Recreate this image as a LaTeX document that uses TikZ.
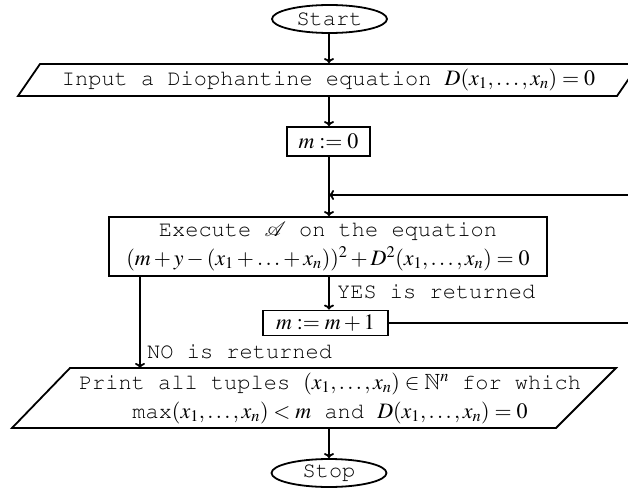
\documentclass[tikz,border=0pt]{standalone}
\usepackage[T1]{fontenc}
\usepackage{amssymb}
\usepackage{mathrsfs}
\usepackage{mathptmx}
\usepackage{courier}
\usetikzlibrary{shapes.geometric,arrows.meta}
\tikzset{
  base/.style={font=\fontsize{22}{29}\selectfont\ttfamily, inner sep=0pt, line width=1.8pt},
  term/.style={base, draw, ellipse, minimum width=115pt, minimum height=28pt},
  proc/.style={base, draw, rectangle, align=center},
  io/.style={base, draw, trapezium, trapezium stretches body=true, align=center},
  txt/.style={base, align=center},
  conn/.style={line width=1.8pt, -{To[length=5pt,width=10pt]}},
  plain/.style={line width=1.8pt},
  lbl/.style={font=\fontsize{22}{26}\selectfont\ttfamily, inner sep=0pt}
}
\begin{document}
\begin{tikzpicture}[x=1pt,y=-1pt]
\useasboundingbox (0,0) rectangle (628,487);
\node[term] (start) at (329.5,19) {Start};
\node[io, trapezium left angle=45, trapezium right angle=135, minimum width=621pt, minimum height=32pt] (input) at (328.5,80) {Input a Diophantine equation $D(x_1,\ldots,x_n)=0$};
\node[proc, minimum width=83pt, minimum height=29pt] (m0) at (328.5,141.5) {$m:=0$};
\coordinate (join) at (329,195);
\coordinate (loopin) at (628,195);
\node[proc, minimum width=438pt, minimum height=59pt] (exec) at (328,246.5) {Execute $\mathscr{A}$ on the equation\\$(m+y-(x_1+\ldots+x_n))^2+D^2(x_1,\ldots,x_n)=0$};
\node[proc, minimum width=125pt, minimum height=25pt] (inc) at (325.5,323) {$m:=m+1$};
\coordinate (loopout) at (628,323);
% output parallelogram
\coordinate (pbl) at (12,428);
\coordinate (ptl) at (70,368);
\coordinate (ptr) at (616,368);
\coordinate (pbr) at (556,428);
\draw[plain, line join=miter] (pbl) -- (ptl) -- (ptr) -- (pbr) -- cycle;
\node[txt] (print) at (330,398) {Print all tuples $(x_1,\ldots,x_n)\in\mathbb{N}^n$ for which\\\texttt{max}$(x_1,\ldots,x_n)<m$ and $D(x_1,\ldots,x_n)=0$};
\node[term] (stop) at (329,473) {Stop};
\coordinate (yesx) at (329,0);
\coordinate (nox) at (140,0);
\draw[conn] (start.south -| yesx) -- (input.north -| yesx);
\draw[conn] (input.south -| yesx) -- (m0.north -| yesx);
\draw[conn] (m0.south -| yesx) -- (exec.north -| yesx);
\draw[conn] (loopin) -- (join);
\draw[conn] (exec.south -| yesx) -- (inc.north -| yesx);
\node[lbl, anchor=base west] (yes) at (337,298) {YES is returned};
\draw[plain] (inc.east) -- (loopout);
\draw[conn] (exec.south -| nox) -- (ptl -| nox);
\node[lbl, anchor=base west] (no) at (147,358) {NO is returned};
\draw[conn] (pbl -| yesx) -- (stop.north -| yesx);
\end{tikzpicture}
\end{document}
